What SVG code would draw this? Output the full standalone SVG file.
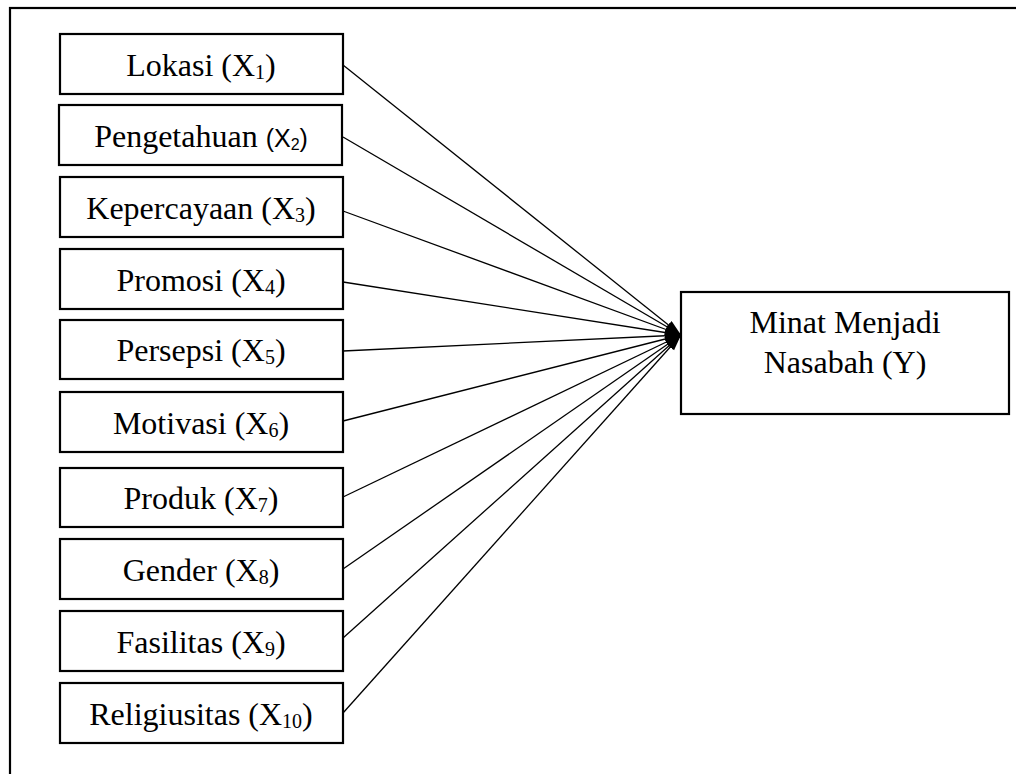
<svg xmlns="http://www.w3.org/2000/svg" width="1016" height="774" viewBox="0 0 1016 774">
<style>
.box{fill:#fff;stroke:#000;stroke-width:2.2}
.frame{fill:none;stroke:#000;stroke-width:2.2}
.t{font-family:"Liberation Serif","Times New Roman",serif;font-size:32px;fill:#000;text-anchor:middle}
.s{font-size:20px}
.sans{font-family:"Liberation Sans",Arial,sans-serif;font-size:25px}
.sans2{font-family:"Liberation Sans",Arial,sans-serif;font-size:16px}
.c{stroke:#000;stroke-width:1.3;fill:none;marker-end:url(#ah)}
</style>
<defs>
<marker id="ah" markerUnits="userSpaceOnUse" markerWidth="18" markerHeight="12" refX="16" refY="5" orient="auto">
<path d="M0,0 L16,5 L0,10 Z" fill="#000"/>
</marker>
</defs>
<rect x="0" y="0" width="1016" height="774" fill="#fff"/>
<rect class="frame" x="10" y="8" width="1020" height="780"/>
<g id="connectors">
<line class="c" x1="343" y1="65" x2="681" y2="335"/>
<line class="c" x1="343" y1="137" x2="681" y2="335"/>
<line class="c" x1="343" y1="211" x2="681" y2="335"/>
<line class="c" x1="343" y1="282" x2="681" y2="335"/>
<line class="c" x1="343" y1="351" x2="681" y2="335"/>
<line class="c" x1="343" y1="421" x2="681" y2="335"/>
<line class="c" x1="343" y1="497" x2="681" y2="335"/>
<line class="c" x1="343" y1="569" x2="681" y2="335"/>
<line class="c" x1="343" y1="638" x2="681" y2="335"/>
<line class="c" x1="343" y1="713" x2="681" y2="335"/>
</g>
<g id="x1"><rect class="box" x="60" y="34" width="283" height="60"/><text class="t" x="201" y="76">Lokasi (X<tspan class="s" dy="3">1</tspan><tspan dy="-3">)</tspan></text></g>
<g id="x2"><rect class="box" x="59" y="105" width="283" height="60"/><text class="t" x="201" y="147">Pengetahuan <tspan class="sans">(X</tspan><tspan class="sans2" dy="3">2</tspan><tspan class="sans" dy="-3">)</tspan></text></g>
<g id="x3"><rect class="box" x="60" y="177" width="283" height="60"/><text class="t" x="201" y="219">Kepercayaan (X<tspan class="s" dy="3">3</tspan><tspan dy="-3">)</tspan></text></g>
<g id="x4"><rect class="box" x="60" y="249" width="283" height="60"/><text class="t" x="201" y="291">Promosi (X<tspan class="s" dy="3">4</tspan><tspan dy="-3">)</tspan></text></g>
<g id="x5"><rect class="box" x="60" y="320" width="283" height="59"/><text class="t" x="201" y="361">Persepsi (X<tspan class="s" dy="3">5</tspan><tspan dy="-3">)</tspan></text></g>
<g id="x6"><rect class="box" x="60" y="392" width="283" height="60"/><text class="t" x="201" y="434">Motivasi (X<tspan class="s" dy="3">6</tspan><tspan dy="-3">)</tspan></text></g>
<g id="x7"><rect class="box" x="60" y="468" width="283" height="59"/><text class="t" x="201" y="509">Produk (X<tspan class="s" dy="3">7</tspan><tspan dy="-3">)</tspan></text></g>
<g id="x8"><rect class="box" x="60" y="539" width="283" height="60"/><text class="t" x="201" y="581">Gender (X<tspan class="s" dy="3">8</tspan><tspan dy="-3">)</tspan></text></g>
<g id="x9"><rect class="box" x="60" y="611" width="283" height="60"/><text class="t" x="201" y="653">Fasilitas (X<tspan class="s" dy="3">9</tspan><tspan dy="-3">)</tspan></text></g>
<g id="x10"><rect class="box" x="60" y="683" width="283" height="60"/><text class="t" x="201" y="725">Religiusitas (X<tspan class="s" dy="3">10</tspan><tspan dy="-3">)</tspan></text></g>
<g id="y"><rect class="box" x="681" y="292" width="328" height="122"/><text class="t" x="845" y="333">Minat Menjadi</text><text class="t" x="845" y="373">Nasabah (Y)</text></g>
</svg>
